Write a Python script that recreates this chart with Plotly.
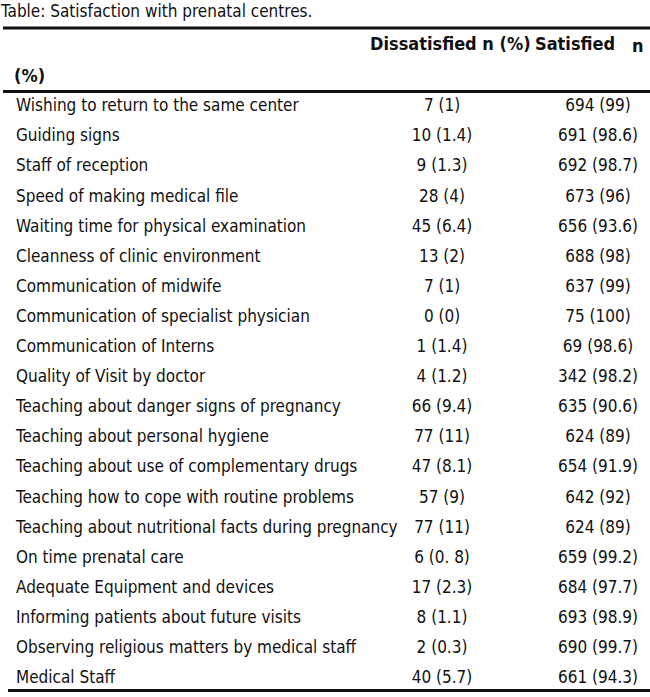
import plotly.graph_objects as go

# Table content
items = [
    "Wishing to return to the same center",
    "Guiding signs",
    "Staff of reception",
    "Speed of making medical file",
    "Waiting time for physical examination",
    "Cleanness of clinic environment",
    "Communication of midwife",
    "Communication of specialist physician",
    "Communication of Interns",
    "Quality of Visit by doctor",
    "Teaching about danger signs of pregnancy",
    "Teaching about personal hygiene",
    "Teaching about use of complementary drugs",
    "Teaching how to cope with routine problems",
    "Teaching about nutritional facts during pregnancy",
    "On time prenatal care",
    "Adequate Equipment and devices",
    "Informing patients about future visits",
    "Observing religious matters by medical staff",
    "Medical Staff",
]
dissatisfied_n = [7, 10, 9, 28, 45, 13, 7, 0, 1, 4, 66, 77, 47, 57, 77, 6, 17, 8, 2, 40]
dissatisfied_pct = ["1", "1.4", "1.3", "4", "6.4", "2", "1", "0", "1.4", "1.2",
                    "9.4", "11", "8.1", "9", "11", "0. 8", "2.3", "1.1", "0.3", "5.7"]
satisfied_n = [694, 691, 692, 673, 656, 688, 637, 75, 69, 342,
               635, 624, 654, 642, 624, 659, 684, 693, 690, 661]
satisfied_pct = ["99", "98.6", "98.7", "96", "93.6", "98", "99", "100", "98.6", "98.2",
                 "90.6", "89", "91.9", "92", "89", "99.2", "97.7", "98.9", "99.7", "94.3"]

title = "Table: Satisfaction with prenatal centres."
header_cols = ["Dissatisfied n (%)", "Satisfied", "n (%)"]
header_second = "(%)"

FONT = "Liberation Sans Narrow, DejaVu Sans Condensed, Arial Narrow, sans-serif"
W, H = 650, 697
row0, step = 107, 30.1   # pixel y of first row anchor, row pitch


def row_of(px):
    # pixel y -> row units
    return (px - row0) / step


rows = list(range(len(items)))
dis_txt = [f"{n} ({p})" for n, p in zip(dissatisfied_n, dissatisfied_pct)]
sat_txt = [f"{n} ({p})" for n, p in zip(satisfied_n, satisfied_pct)]

fig = go.Figure()

fig.add_trace(go.Scatter(
    x=[16] * len(items), y=rows, text=items, mode="text",
    textposition="middle right",
    textfont=dict(family=FONT, size=17, color="#111"),
    hoverinfo="skip", cliponaxis=False,
))
fig.add_trace(go.Scatter(
    x=[442] * len(items), y=rows, text=dis_txt, mode="text",
    textposition="middle center",
    textfont=dict(family=FONT, size=17, color="#111"),
    hoverinfo="skip", cliponaxis=False,
))
fig.add_trace(go.Scatter(
    x=[598] * len(items), y=rows, text=sat_txt, mode="text",
    textposition="middle center",
    textfont=dict(family=FONT, size=17, color="#111"),
    hoverinfo="skip", cliponaxis=False,
))

# Header
fig.add_trace(go.Scatter(
    x=[370, 535, 632, 14],
    y=[row_of(45), row_of(45), row_of(47), row_of(77)],
    text=[f"<b>{t}</b>" for t in header_cols + [header_second]],
    mode="text", textposition="middle right",
    textfont=dict(family=FONT, size=18, color="#111"),
    hoverinfo="skip", cliponaxis=False,
))

# Title
fig.add_trace(go.Scatter(
    x=[1], y=[row_of(13)], text=[title], mode="text",
    textposition="middle right",
    textfont=dict(family=FONT, size=17, color="#111"),
    hoverinfo="skip", cliponaxis=False,
))

# Rules
for px, x0 in [(28, 3), (91.5, 3), (690.5, 8)]:
    fig.add_shape(type="line", xref="x", yref="y",
                  x0=x0, x1=W + 10, y0=row_of(px), y1=row_of(px),
                  line=dict(color="#111", width=3))

fig.update_layout(
    width=W, height=H,
    margin=dict(l=0, r=0, t=0, b=0),
    paper_bgcolor="white", plot_bgcolor="white",
    showlegend=False,
    hovermode=False,
    xaxis=dict(range=[0, W], visible=False, fixedrange=True),
    yaxis=dict(range=[row_of(H), row_of(0)], visible=False, fixedrange=True),
)

# drop the default page margin so the figure sits at the window's corner
fig.write_html("out.html", config={"displayModeBar": False},
               post_script="document.body.style.margin='0';")
